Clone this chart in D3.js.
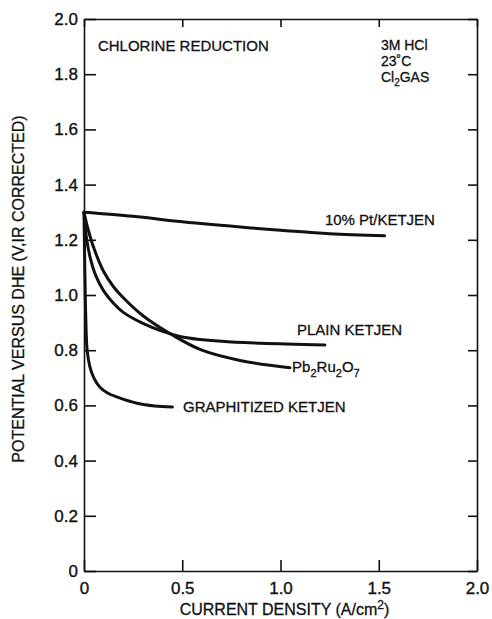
<!DOCTYPE html>
<html>
<head>
<meta charset="utf-8">
<script src="https://cdn.jsdelivr.net/npm/d3@7"></script>
<style>
  body { margin: 0; background: #fff; }
  text { font-family: "Liberation Sans", Arial, sans-serif; fill: #111; }
</style>
</head>
<body>
<svg id="chart" width="492" height="619"></svg>
<script>
// current density (A/cm2) vs potential (V)
const ptKetjen = [[0, 1.30], [0.25, 1.285], [0.5, 1.265], [0.85, 1.243], [1.0, 1.235], [1.25, 1.222], [1.53, 1.215]];
const plainKetjen = [[0, 1.30], [0.01, 1.22], [0.03, 1.14], [0.06, 1.07], [0.1, 1.015], [0.15, 0.97], [0.2, 0.937], [0.3, 0.897], [0.4, 0.868], [0.5, 0.848], [0.7, 0.832], [0.9, 0.825], [1.226, 0.819]];
const pbRuO = [[0, 1.30], [0.02, 1.24], [0.05, 1.17], [0.1, 1.085], [0.15, 1.03], [0.2, 0.99], [0.3, 0.925], [0.45, 0.855], [0.6, 0.80], [0.8, 0.762], [1.048, 0.736]];
const graphitized = [[0, 1.30], [0.004, 1.10], [0.009, 0.92], [0.016, 0.80], [0.03, 0.74], [0.05, 0.70], [0.08, 0.667], [0.12, 0.645], [0.17, 0.63], [0.27, 0.608], [0.36, 0.598], [0.45, 0.594]];

const xTicks = [0, 0.5, 1.0, 1.5, 2.0];
const xTickLabels = ['0', '0.5', '1.0', '1.5', '2.0'];
const yTicks = [0, 0.2, 0.4, 0.6, 0.8, 1.0, 1.2, 1.4, 1.6, 1.8, 2.0];
const yTickLabels = ['0', '0.2', '0.4', '0.6', '0.8', '1.0', '1.2', '1.4', '1.6', '1.8', '2.0'];

const svg = d3.select('#chart');
const plotL = 84, plotR = 477, plotT = 19, plotB = 571;

const x = d3.scaleLinear().domain([0, 2]).range([plotL, plotR]);
const y = d3.scaleLinear().domain([0, 2]).range([plotB, plotT]);

// axes (ticks point inward on all four sides)
const styleAxis = g => {
  g.select('.domain').attr('stroke', '#111').attr('stroke-width', 1.6);
  g.selectAll('.tick line').attr('stroke', '#111').attr('stroke-width', 1.6);
  g.selectAll('.tick text')
    .attr('font-family', '"Liberation Sans", Arial, sans-serif')
    .attr('font-size', 17)
    .attr('fill', '#111')
    .attr('stroke', '#111')
    .attr('stroke-width', 0.35);
};

svg.append('g')
  .attr('transform', `translate(0,${plotB})`)
  .call(d3.axisBottom(x).tickValues(xTicks).tickFormat((d, i) => xTickLabels[i])
    .tickSizeInner(-11).tickSizeOuter(0).tickPadding(11))
  .call(styleAxis);

svg.append('g')
  .attr('transform', `translate(${plotL},0)`)
  .call(d3.axisLeft(y).tickValues(yTicks).tickFormat((d, i) => yTickLabels[i])
    .tickSizeInner(-12).tickSizeOuter(0).tickPadding(6))
  .call(styleAxis);

svg.append('g')
  .attr('transform', `translate(0,${plotT})`)
  .call(d3.axisTop(x).tickValues(xTicks).tickFormat('').tickSizeInner(-8).tickSizeOuter(0))
  .call(styleAxis);

svg.append('g')
  .attr('transform', `translate(${plotR},0)`)
  .call(d3.axisRight(y).tickValues(yTicks).tickFormat('').tickSizeInner(-9).tickSizeOuter(0))
  .call(styleAxis);

// curves
const line = d3.line()
  .x(d => x(d[0]))
  .y(d => y(d[1]))
  .curve(d3.curveCatmullRom.alpha(0.5));

[ptKetjen, plainKetjen, pbRuO, graphitized].forEach(s => {
  svg.append('path')
    .datum(s)
    .attr('d', line)
    .attr('fill', 'none')
    .attr('stroke', '#111')
    .attr('stroke-width', 3)
    .attr('stroke-linecap', 'round');
});

// annotation text
const note = (px, py, size) => svg.append('text')
  .attr('x', px).attr('y', py)
  .attr('font-size', size)
  .attr('stroke', '#111')
  .attr('stroke-width', 0.3);

note(x(1.226), y(1.254), 15).text('10% Pt/KETJEN');
note(x(1.084), y(0.855), 15).text('PLAIN KETJEN');
const pb = note(x(1.059), y(0.721), 15);
pb.append('tspan').text('Pb');
pb.append('tspan').attr('font-size', 11).attr('dy', 5).text('2');
pb.append('tspan').attr('dy', -5).text('Ru');
pb.append('tspan').attr('font-size', 11).attr('dy', 5).text('2');
pb.append('tspan').attr('dy', -5).text('O');
pb.append('tspan').attr('font-size', 11).attr('dy', 5).text('7');
note(x(0.504), y(0.576), 15).text('GRAPHITIZED KETJEN');

note(x(0.071), y(1.884), 15).text('CHLORINE REDUCTION');
note(x(1.511), y(1.887), 14).text('3M HCl');
note(x(1.511), y(1.829), 14).text('23\u02DAC');
const cl = note(x(1.511), y(1.771), 14);
cl.append('tspan').text('Cl');
cl.append('tspan').attr('font-size', 10).attr('dy', 4).text('2');
cl.append('tspan').attr('dy', -4).text('GAS');

// axis titles
const xt = svg.append('text')
  .attr('x', (plotL + plotR) / 2 + 4).attr('y', 615)
  .attr('text-anchor', 'middle')
  .attr('font-size', 16)
  .attr('stroke', '#111').attr('stroke-width', 0.3);
xt.append('tspan').text('CURRENT DENSITY (A/cm');
xt.append('tspan').attr('font-size', 12).attr('dy', -6).text('2');
xt.append('tspan').attr('dy', 6).text(')');

svg.append('text')
  .attr('transform', `translate(24,${(plotT + plotB) / 2 - 6}) rotate(-90)`)
  .attr('text-anchor', 'middle')
  .attr('font-size', 16)
  .attr('stroke', '#111').attr('stroke-width', 0.3)
  .text('POTENTIAL VERSUS DHE (V,IR CORRECTED)');
</script>
</body>
</html>
